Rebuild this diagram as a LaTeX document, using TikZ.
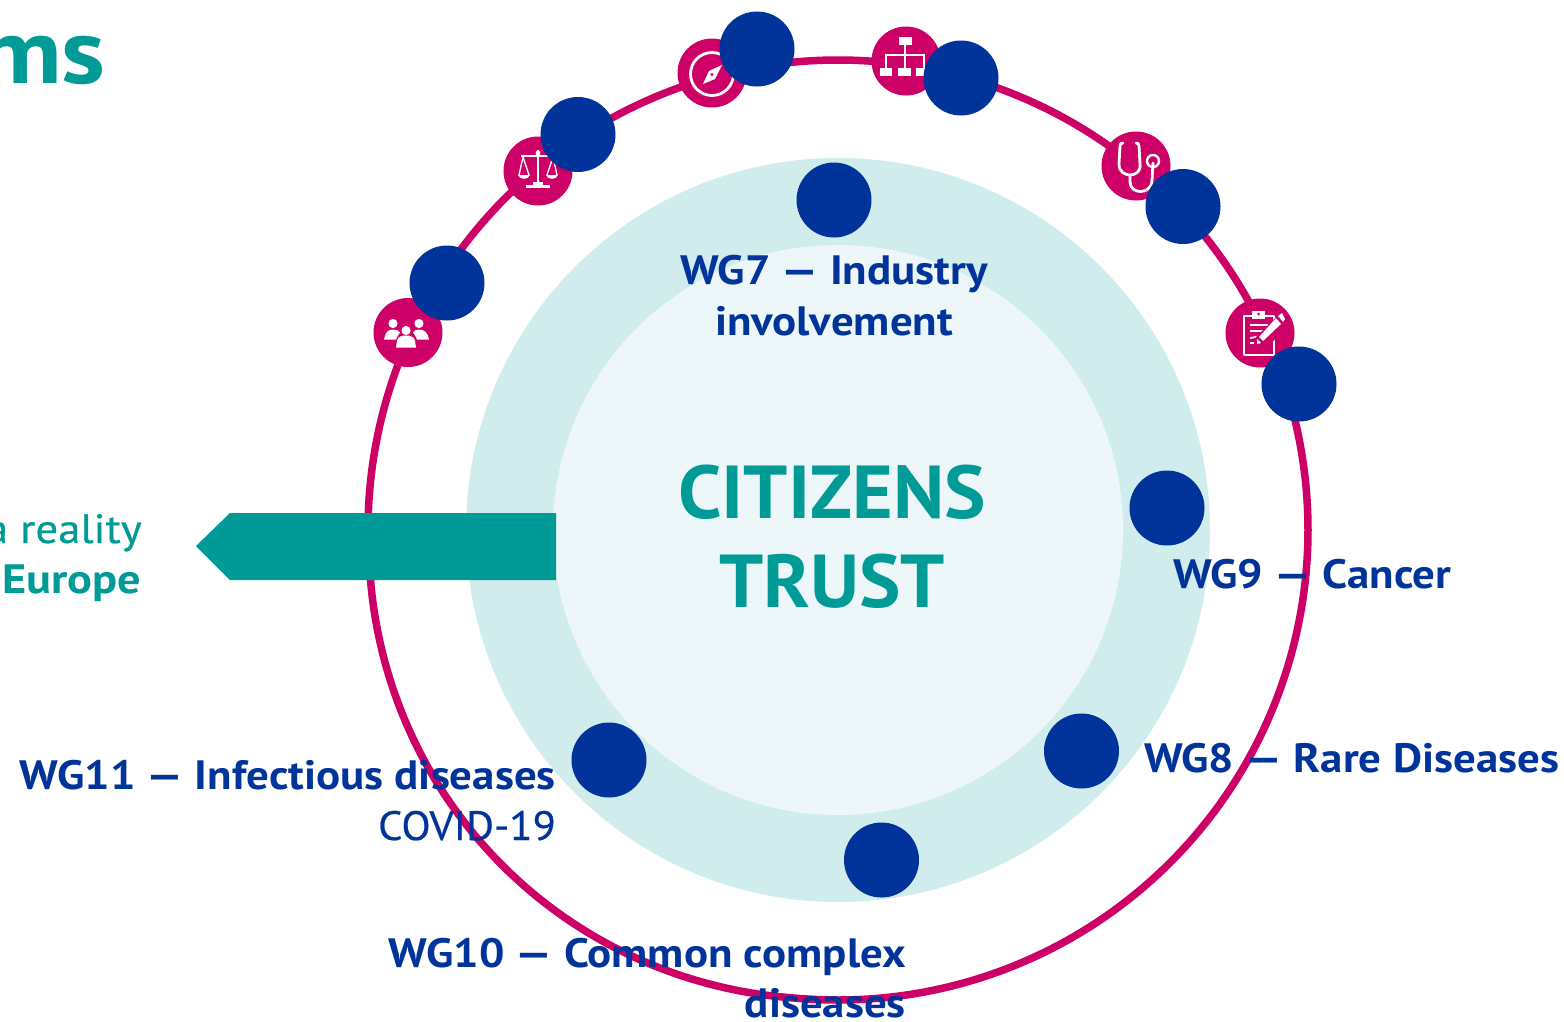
\documentclass[tikz,border=0pt]{standalone}
\usepackage{fontspec}
\setmainfont{PT Sans}
\newfontfamily\wide[FakeStretch=1.095]{PT Sans}
\newfontfamily\widereg[FakeStretch=1.095,FakeBold=0.5]{PT Sans}
\newfontfamily\widelight[FakeStretch=1.04,FakeBold=0.5]{PT Sans}
\newfontfamily\widebig[FakeStretch=1.13]{PT Sans}
\newfontfamily\widehead[FakeStretch=1.04]{PT Sans}
\definecolor{teal}{HTML}{009A97}
\definecolor{ringc}{HTML}{CC0066}
\definecolor{navy}{HTML}{00349A}
\definecolor{diskA}{HTML}{D1ECEC}
\definecolor{diskB}{HTML}{EDF7F9}
\tikzset{
  bluedot/.style={circle,fill=navy,draw=none,minimum size=75pt,inner sep=0pt},
  icondot/.style={circle,fill=ringc,draw=none,minimum size=69pt,inner sep=0pt},
  disk/.style={circle,draw=none,inner sep=0pt},
  wg/.style={text=navy,font=\wide\fontsize{41}{51}\selectfont\bfseries,inner sep=0pt},
  wgl/.style={text=navy,font=\widelight\fontsize{41}{51}\selectfont,inner sep=0pt},
  head/.style={text=teal,font=\widehead\fontsize{75}{90}\selectfont\bfseries,inner sep=0pt},
  ic/.style={white,line width=2.8pt,line cap=round,line join=round},
}
\begin{document}
\begin{tikzpicture}[x=1pt,y=-1pt]
\useasboundingbox (0,0) rectangle (1564,1021);
\fill[white] (0,0) rectangle (1564,1021);
\node[disk,fill=diskA,minimum size=744pt] (outer) at (838,530) {};
\node[disk,fill=diskB,minimum size=570pt] (inner) at (838,530) {};
\node[circle,draw=none,minimum size=940pt,inner sep=0pt] (ring) at (838,530) {};
% the ring bulges slightly at the lower left
\draw[ringc,line width=7.5pt,line join=round]
  plot[domain=0:360,samples=181,smooth,variable=\t]
  ({838+(470+4.5*(\t>95)*(\t<175)*sin(2.25*(\t-95)))*cos(\t)},{530+(470+4.5*(\t>95)*(\t<175)*sin(2.25*(\t-95)))*sin(\t)}) -- cycle;
\fill[teal] (556,513) -- (556,580) -- (230,580) -- (196,546) -- (230,513) -- cycle;
\node[head,anchor=base] (cit) at (832,518) {CITIZENS};
\node[head,anchor=base] (tru) at (832,607) {TRUST};
\node[anchor=base east,text=teal,font=\widebig\fontsize{92}{100}\selectfont\bfseries,inner sep=0pt] (ms) at (106,83) {ms};
\node[anchor=base east,text=teal,font=\widereg\fontsize{41}{51}\selectfont,inner sep=0pt] (real) at (142,543) {a reality};
\node[anchor=base east,text=teal,font=\widebig\fontsize{41}{51}\selectfont\bfseries,inner sep=0pt] (eur) at (141.5,593) {Europe};
% icons
\node[icondot] (i1) at (408,332.5) {};
\node[icondot] (i2) at (538,171) {};
\node[icondot] (i3) at (712,73) {};
\node[icondot] (i4) at (906,61) {};
\node[icondot] (i5) at (1136,166) {};
\node[icondot] (i6) at (1260,333) {};
% people
\begin{scope}[shift={(i1.center)}]
 \fill[white] (-15,-9) circle (4.6);
 \fill[white] (11,-9) circle (4.6);
 \fill[white] (-2,-2) circle (4.6);
 \fill[white] (-24,7) .. controls (-23,0) and (-20,-3) .. (-15,-3) .. controls (-12,-3) and (-9,-2) .. (-8,0) .. controls (-10,2) and (-11,5) .. (-12,7) -- cycle;
 \fill[white] (21,7) .. controls (20,0) and (16,-3) .. (11,-3) .. controls (8,-3) and (6,-2) .. (5,0) .. controls (7,2) and (8,5) .. (9,7) -- cycle;
 \fill[white] (-12,15) -- (-11,8) .. controls (-10,4) and (-6,3) .. (-2,3) .. controls (2,3) and (6,4) .. (7,8) -- (8,15) -- cycle;
\end{scope}
% scales
\begin{scope}[shift={(i2.center)}]
 \draw[white,line width=2.4pt] (0,-21) -- (0,14);
 \draw[white,line width=2pt] (-17,-15) -- (17,-15);
 \fill[white] (0,-18) circle (2.4);
 \draw[white,line width=1.3pt] (-15,-14) -- (-19,4) (-15,-14) -- (-9,4) (15,-14) -- (9,4) (15,-14) -- (19,4);
 \fill[white] (-20,4) -- (-8,4) .. controls (-9,9) and (-19,9) .. (-20,4) -- cycle;
 \fill[white] (8,4) -- (20,4) .. controls (19,9) and (9,9) .. (8,4) -- cycle;
 \fill[white] (-12,14) rectangle (12,17);
 \fill[white] (-5,11) rectangle (5,14);
\end{scope}
% compass
\begin{scope}[shift={(i3.center)}]
 \draw[white,line width=2.8pt] (0,1) circle (21.5);
 \fill[white] (10,-8) -- (3,6) -- (-9,11) -- (-3,-2) -- cycle;
 \fill[ringc] (0,1.5) circle (1.6);
\end{scope}
% org chart
\begin{scope}[shift={(i4.center)}]
 \fill[white] (-7,-24) rectangle (6,-16);
 \fill[white] (-26,7) rectangle (-14,15);
 \fill[white] (-8,7) rectangle (5,15);
 \fill[white] (10,7) rectangle (23,15);
 \draw[white,line width=1.6pt] (-1,-16) -- (-1,7) (-20,7) -- (-20,-6) -- (18,-6) -- (18,7);
\end{scope}
% stethoscope
\begin{scope}[shift={(i5.center)}]
 \draw[ic] (-13,-23) .. controls (-15,-23) and (-16,-22) .. (-16,-20) -- (-17,-2) .. controls (-17,6) and (-11,9) .. (-6,9) .. controls (0,9) and (5,5) .. (4,-2) -- (3,-20) .. controls (3,-22) and (2,-23) .. (0,-23);
 \draw[ic] (-6,9) -- (-6,16) .. controls (-6,29) and (16,29) .. (16,14) -- (17,-3);
 \draw[white,line width=2.4pt] (17,-5) circle (6);
\end{scope}
% clipboard
\begin{scope}[shift={(i6.center)}]
 \draw[white,line width=2.4pt,line join=round] (-16,-17) rectangle (14,22);
 \fill[white] (-8,-22) rectangle (5,-14);
 \fill[ringc] (-1.5,-19) circle (1.5);
 \draw[white,line width=1.8pt] (-10,-8) -- (8,-8) (-10,-2) -- (6,-2) (-10,5) -- (2,3) (-10,10) -- (-2,10);
 \fill[ringc] (20,-20) -- (-6,6) -- (-6,18) -- (6,16) -- (30,-10) -- cycle;
 \fill[white] (16,-15) -- (-1,4) -- (3,8) -- (21,-9) -- cycle;
 \fill[white] (-3,6) -- (-3,11) -- (1,10) -- cycle;
 \fill[white] (18,-17) -- (23,-11) -- (25,-14) -- (22,-20) -- cycle;
\end{scope}
% blue dots
\node[bluedot] (b1) at (447,283) {};
\node[bluedot] (b2) at (578,134.5) {};
\node[bluedot] (b3) at (757,49) {};
\node[bluedot] (b4) at (961,78) {};
\node[bluedot] (b5) at (1183,206.5) {};
\node[bluedot] (b6) at (1299,384) {};
\node[bluedot] (b7) at (834,200) {};
\node[bluedot] (b8) at (1167,508) {};
\node[bluedot] (b9) at (1081.5,751) {};
\node[bluedot] (b10) at (881.5,860) {};
\node[bluedot] (b11) at (609,760) {};
% labels
\node[wg,anchor=base] (wg7) at (834,284) {WG7 — Industry};
\node[wg,anchor=base] (wg7b) at (834,335) {involvement};
\node[wg,anchor=base west] (wg9) at (1173,588) {WG9 — Cancer};
\node[wg,anchor=base west] (wg8) at (1144,772) {WG8 — Rare Diseases};
\node[wg,anchor=base east] (wg11) at (556,789) {WG11 — Infectious diseases};
\node[wgl,anchor=base east] (cov) at (556,840) {COVID-19};
\node[wg,anchor=base east] (wg10) at (906,967) {WG10 — Common complex};
\node[wg,anchor=base east] (wg10b) at (906,1017) {diseases};
\end{tikzpicture}
\end{document}
